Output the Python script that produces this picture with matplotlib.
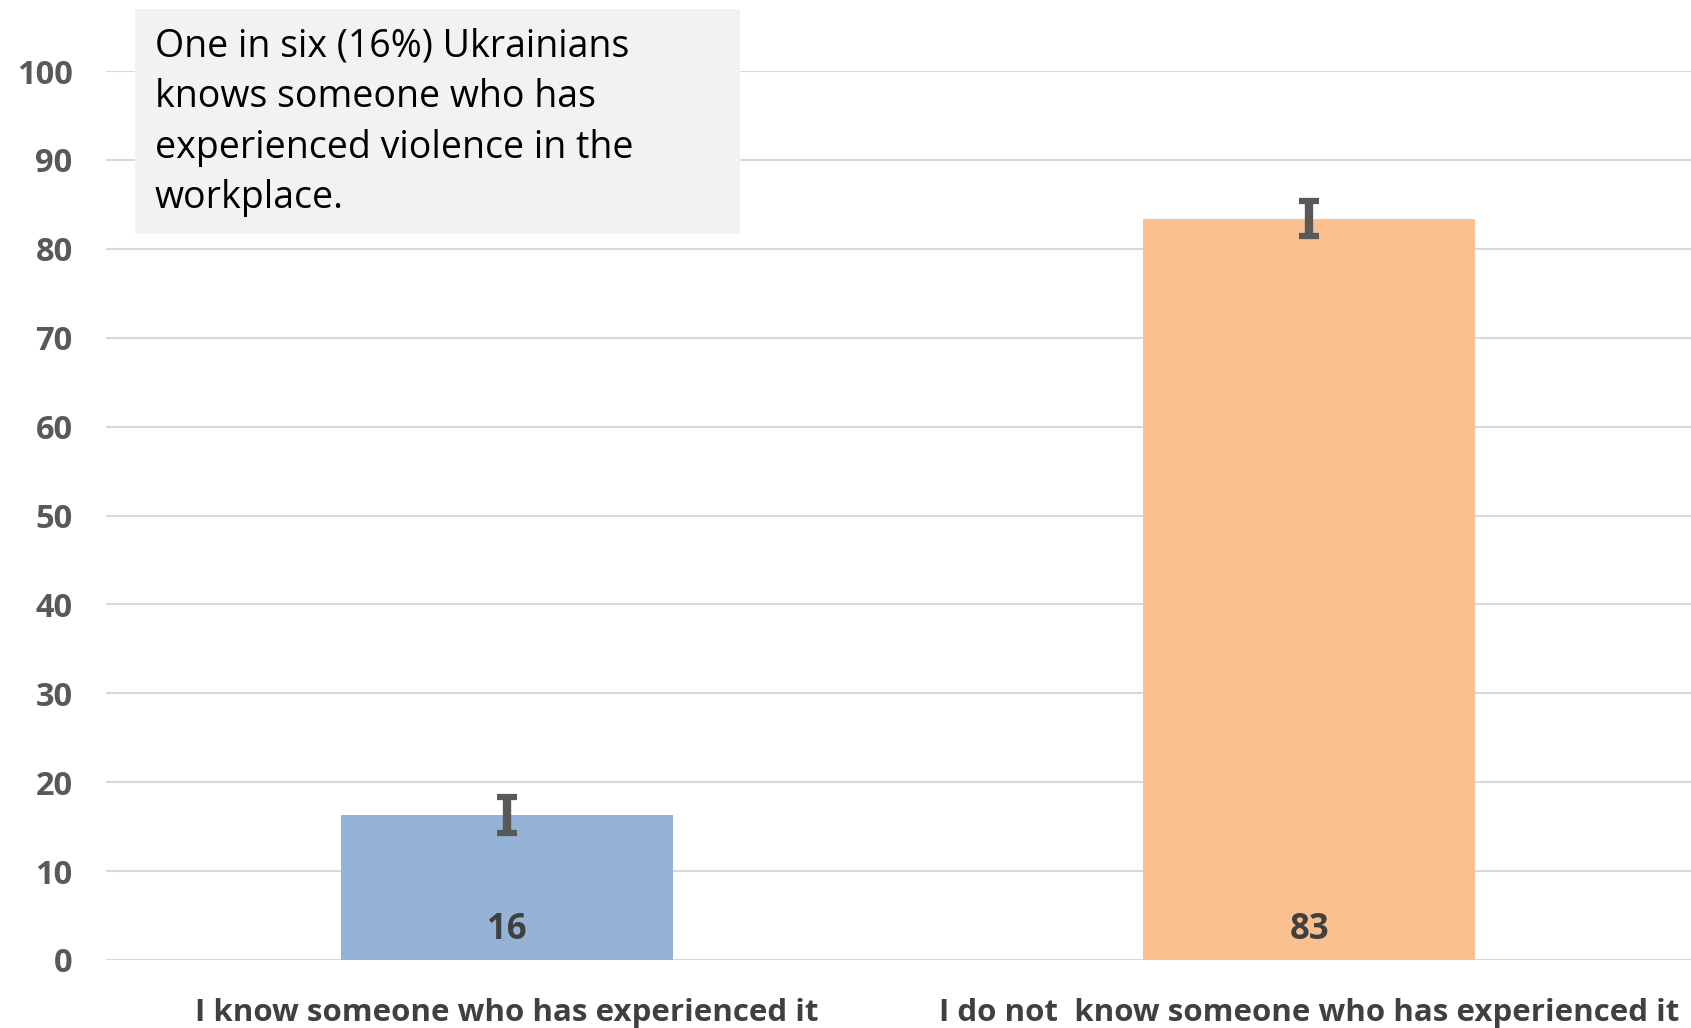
import matplotlib.pyplot as plt
from matplotlib.patches import Rectangle

# data
categories = ["I know someone who has experienced it",
              "I do not  know someone who has experienced it"]
values = [16.3, 83.4]
errors = [2.0, 2.0]
bar_colors = ["#95b3d7", "#fac090"]
yticks = [0, 10, 20, 30, 40, 50, 60, 70, 80, 90, 100]
note = "One in six (16%) Ukrainians\nknows someone who has\nexperienced violence in the\nworkplace."

W, H = 1691, 1028
fig = plt.figure(figsize=(W / 100, H / 100), dpi=100)
ax = fig.add_axes([106 / W, 68 / H, 1 - 106 / W, (957 - 68) / H])

x = range(len(categories))
ax.bar(x, values, width=0.414, color=bar_colors, zorder=2)
ax.errorbar(x, values, yerr=errors, fmt="none", ecolor="#595959",
            elinewidth=6, capsize=7, capthick=4.5, zorder=3)

# value labels near the bottom of each bar
for xi, v in zip(x, values):
    ax.text(xi, 3.4, f"{round(v)}", ha="center", va="center",
            fontsize=25, fontweight="bold", color="#404040",
            family="Open Sans", zorder=4)

ax.set_xlim(-0.5, 1.476)
ax.set_ylim(0, 100)
ax.set_yticks(yticks)
ax.yaxis.grid(True, color="#d9d9d9", linewidth=1.5, zorder=0)
ax.set_axisbelow(True)
for s in ax.spines.values():
    s.set_visible(False)

ax.set_xticks(list(x))
ax.set_xticklabels(categories, fontsize=22.5, fontweight="bold",
                   color="#404040", family="Open Sans")
ax.tick_params(axis="x", length=0, pad=27)
ax.tick_params(axis="y", length=0, pad=24, labelsize=23.5, labelcolor="#595959")
for lab in ax.get_yticklabels():
    lab.set_fontweight("bold")
    lab.set_family("Open Sans")

# grey annotation box in the top left
fig.patches.append(Rectangle((135 / W, 1 - 234 / H), (740 - 135) / W, (234 - 9) / H,
                             transform=fig.transFigure, facecolor="#f2f2f2",
                             edgecolor="none", zorder=5))
fig.text(155 / W, 1 - 28 / H, note, ha="left", va="top", fontsize=27,
         family="Open Sans", color="black", linespacing=1.43, zorder=6)

fig.savefig("out.png", dpi=100)
